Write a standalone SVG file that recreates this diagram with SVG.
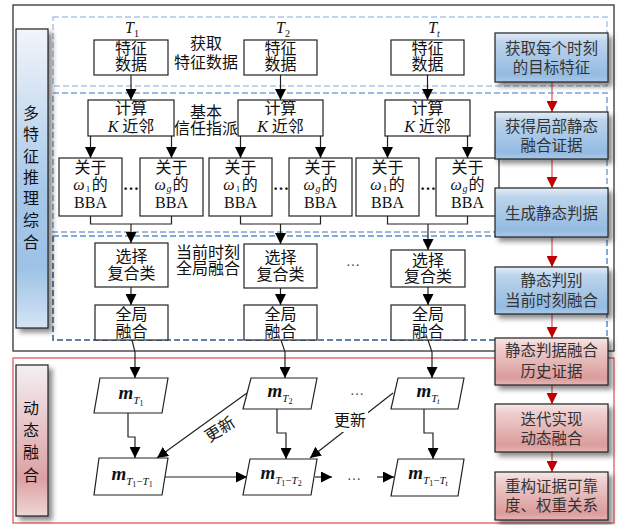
<svg xmlns="http://www.w3.org/2000/svg" width="619" height="525" viewBox="0 0 619 525">
<style>
.box{fill:#fff;stroke:#222;stroke-width:1.2}
.t{font-family:"Liberation Serif","Noto Sans CJK SC",serif;font-size:16px;fill:#111;text-anchor:middle}
.rt{font-size:15.5px;fill:#333}
.it{font-style:italic}
.m{font-size:19px;font-weight:bold;font-style:italic}
.ln{fill:none;stroke:#222;stroke-width:1.2}
.ar{marker-end:url(#ah)}
.rl{fill:none;stroke:#e06c6c;stroke-width:1.4;marker-end:url(#rah)}
.dots{font-family:"Liberation Serif",serif;font-size:14px;fill:#444;text-anchor:middle}
.bshad{filter:url(#sh)}
</style>
<defs>
<marker id="ah" markerUnits="userSpaceOnUse" markerWidth="11" markerHeight="11" refX="11" refY="5.5" orient="auto"><path d="M0,0 L11,5.5 L0,11 z" fill="#000"/></marker>
<marker id="rah" markerUnits="userSpaceOnUse" markerWidth="11" markerHeight="11" refX="11" refY="5.5" orient="auto"><path d="M0,0 L11,5.5 L0,11 z" fill="#c00000"/></marker>
<linearGradient id="gb" x1="0" y1="0" x2="0" y2="1"><stop offset="0" stop-color="#e4eef8"/><stop offset="0.18" stop-color="#bdd4ec"/><stop offset="0.85" stop-color="#94bbe2"/><stop offset="1" stop-color="#a9c8e8"/></linearGradient>
<linearGradient id="gr" x1="0" y1="0" x2="0" y2="1"><stop offset="0" stop-color="#f6e6e6"/><stop offset="0.18" stop-color="#efcfcf"/><stop offset="0.85" stop-color="#db9c9c"/><stop offset="1" stop-color="#e6b4b4"/></linearGradient>
<linearGradient id="glb" x1="0" y1="0" x2="0" y2="1"><stop offset="0" stop-color="#f2f5fa"/><stop offset="0.55" stop-color="#a6c7e8"/><stop offset="0.8" stop-color="#9dc2e6"/><stop offset="1" stop-color="#d5e4f4"/></linearGradient>
<linearGradient id="glr" x1="0" y1="0" x2="0" y2="1"><stop offset="0" stop-color="#f4eff3"/><stop offset="0.75" stop-color="#dda0a3"/><stop offset="1" stop-color="#f0d6d6"/></linearGradient>
<filter id="sh" x="-20%" y="-20%" width="150%" height="150%"><feDropShadow dx="4" dy="4" stdDeviation="2.5" flood-color="#000" flood-opacity="0.45"/></filter>
</defs>

<g id="frames">
<rect x="13" y="5" width="601" height="346" fill="#fff" stroke="#333" stroke-width="1.3"/>
<rect x="13" y="358" width="601" height="165" fill="#fff" stroke="#e05a5a" stroke-width="1.3"/>
<rect x="53" y="17" width="554" height="69" fill="none" stroke="#a9c8e6" stroke-width="1.5" stroke-dasharray="6 3"/>
<rect x="53" y="93" width="554" height="139" fill="none" stroke="#7ca5d0" stroke-width="1.5" stroke-dasharray="6 3"/>
<path d="M53,236 H607 V340" fill="none" stroke="#5b8fc7" stroke-width="1.5" stroke-dasharray="6 3"/>
<path d="M53,236 V340 H607" fill="none" stroke="#2f5b8a" stroke-width="1.5" stroke-dasharray="6 3"/>
</g>

<g id="panel-static">
<rect class="bshad" x="16" y="29" width="32" height="299" fill="url(#glb)" stroke="#222" stroke-width="1.2"/>
<text class="t"><tspan x="31" y="119">多</tspan><tspan x="31" y="140">特</tspan><tspan x="31" y="162">征</tspan><tspan x="31" y="183">推</tspan><tspan x="31" y="204">理</tspan><tspan x="31" y="226">综</tspan><tspan x="31" y="248">合</tspan></text>
</g>
<g id="panel-dynamic">
<rect class="bshad" x="16" y="365" width="32" height="151" fill="url(#glr)" stroke="#222" stroke-width="1.2"/>
<text class="t"><tspan x="31" y="414">动</tspan><tspan x="31" y="436">态</tspan><tspan x="31" y="458">融</tspan><tspan x="31" y="481">合</tspan></text>
</g>

<g id="labels">
<text class="t it" x="132" y="33" font-size="17">T<tspan font-size="10" dy="4" font-style="normal">1</tspan></text>
<text class="t it" x="283" y="33" font-size="17">T<tspan font-size="10" dy="4" font-style="normal">2</tspan></text>
<text class="t it" x="434" y="33" font-size="17">T<tspan font-size="10" dy="4">t</tspan></text>
<text class="t" x="206" y="49" font-size="15">获取</text>
<text class="t" x="206" y="68" font-size="15">特征数据</text>
<text class="t" x="206" y="118" font-size="15">基本</text>
<text class="t" x="206" y="134" font-size="15">信任指派</text>
<text class="t" x="208" y="258" font-size="15">当前时刻</text>
<text class="t" x="208" y="274" font-size="15">全局融合</text>
</g>

<g id="connectors">
<path class="ln ar" d="M131,75 V100"/>
<path class="ln ar" d="M280.5,75 V100"/>
<path class="ln ar" d="M427.5,75 V100"/>
<path class="ln ar" d="M90.5,136 V158"/>
<path class="ln ar" d="M171.5,136 V158"/>
<path class="ln ar" d="M240.5,136 V158"/>
<path class="ln ar" d="M320.5,136 V158"/>
<path class="ln ar" d="M387.5,136 V158"/>
<path class="ln ar" d="M467.5,136 V158"/>
<path class="ln" d="M90.5,216 V224 H171.5 V216"/>
<path class="ln" d="M240.5,216 V224 H320.5 V216"/>
<path class="ln" d="M387.5,216 V224 H467.5 V216"/>
<path class="ln ar" d="M131,224 V243"/>
<path class="ln ar" d="M280.5,224 V244"/>
<path class="ln ar" d="M428,224 V250"/>
<path class="ln ar" d="M131,287 V305"/>
<path class="ln ar" d="M280.5,288 V305"/>
<path class="ln ar" d="M428,287 V305"/>
<path class="ln ar" d="M132,340 L135,352 V378"/>
<path class="ln ar" d="M281,340 L285,352 V378"/>
<path class="ln ar" d="M428,340 L432,352 V378"/>
<path class="ln ar" d="M128,413 V437 H135 V458"/>
<path class="ln ar" d="M277,409 V433 H286 V459"/>
<path class="ln ar" d="M424,409 V433 H433 V459"/>
<path class="ln ar" d="M165,477 H247"/>
<path class="ln ar" d="M315,477 H332"/>
<path class="ln ar" d="M377,477 H394"/>
<path class="ln ar" d="M247,393 L157,458"/>
<path class="ln ar" d="M393,393 L310,458"/>
<rect x="334" y="409" width="34" height="23" fill="#fff"/>
<text class="t" x="350" y="426" font-size="15.5" fill="#333">更新</text>
<text class="t" x="0" y="0" font-size="15.5" fill="#333" transform="translate(223,434) rotate(-33)">更新</text>
<path class="rl" d="M552,82 V112"/>
<path class="rl" d="M552,159 V188"/>
<path class="rl" d="M552,237 V267"/>
<path class="rl" d="M552,314 V338"/>
<path class="rl" d="M552,385 V404"/>
<path class="rl" d="M552,452 V472"/>
</g>

<g id="feat1"><rect class="box" x="94" y="40" width="74" height="35"/><text class="t" x="131" y="54">特征</text><text class="t" x="131" y="70">数据</text></g>
<g id="feat2"><rect class="box" x="244" y="40" width="73" height="35"/><text class="t" x="280.5" y="54">特征</text><text class="t" x="280.5" y="70">数据</text></g>
<g id="feat3"><rect class="box" x="391" y="40" width="73" height="35"/><text class="t" x="427.5" y="54">特征</text><text class="t" x="427.5" y="70">数据</text></g>

<g id="knn1"><rect class="box" x="88" y="100" width="86" height="36"/><text class="t" x="131" y="114">计算</text><text class="t" x="131" y="132"><tspan class="it">K</tspan> 近邻</text></g>
<g id="knn2"><rect class="box" x="238" y="100" width="85" height="36"/><text class="t" x="280.5" y="114">计算</text><text class="t" x="280.5" y="132"><tspan class="it">K</tspan> 近邻</text></g>
<g id="knn3"><rect class="box" x="385" y="100" width="85" height="36"/><text class="t" x="427.5" y="114">计算</text><text class="t" x="427.5" y="132"><tspan class="it">K</tspan> 近邻</text></g>

<g id="bba1"><rect class="box" x="59" y="158" width="63" height="58"/><text class="t" x="90.5" y="173">关于</text><text class="t" x="90.5" y="190"><tspan class="it">ω</tspan><tspan font-size="9" dx="1" dy="2">1</tspan><tspan dx="1.5" dy="-2">的</tspan></text><text class="t" x="90.5" y="208">BBA</text></g>
<g id="bba2"><rect class="box" x="140" y="158" width="63" height="58"/><text class="t" x="171.5" y="190"><tspan class="it">ω</tspan><tspan class="it" font-size="10" dx="0.5" dy="2">g</tspan><tspan dx="1" dy="-2">的</tspan></text><text class="t" x="171.5" y="173">关于</text><text class="t" x="171.5" y="208">BBA</text></g>
<g id="bba3"><rect class="box" x="209" y="158" width="63" height="58"/><text class="t" x="240.5" y="173">关于</text><text class="t" x="240.5" y="190"><tspan class="it">ω</tspan><tspan font-size="9" dx="1" dy="2">1</tspan><tspan dx="1.5" dy="-2">的</tspan></text><text class="t" x="240.5" y="208">BBA</text></g>
<g id="bba4"><rect class="box" x="289" y="158" width="63" height="58"/><text class="t" x="320.5" y="173">关于</text><text class="t" x="320.5" y="190"><tspan class="it">ω</tspan><tspan class="it" font-size="10" dx="0.5" dy="2">g</tspan><tspan dx="1" dy="-2">的</tspan></text><text class="t" x="320.5" y="208">BBA</text></g>
<g id="bba5"><rect class="box" x="356" y="158" width="63" height="58"/><text class="t" x="387.5" y="173">关于</text><text class="t" x="387.5" y="190"><tspan class="it">ω</tspan><tspan font-size="9" dx="1" dy="2">1</tspan><tspan dx="1.5" dy="-2">的</tspan></text><text class="t" x="387.5" y="208">BBA</text></g>
<g id="bba6"><rect class="box" x="436" y="158" width="63" height="58"/><text class="t" x="467.5" y="173">关于</text><text class="t" x="467.5" y="190"><tspan class="it">ω</tspan><tspan class="it" font-size="10" dx="0.5" dy="2">g</tspan><tspan dx="1" dy="-2">的</tspan></text><text class="t" x="467.5" y="208">BBA</text></g>
<g id="dots-bba">
<text class="t" x="131" y="190" font-weight="bold">…</text>
<text class="t" x="281" y="190" font-weight="bold">…</text>
<text class="t" x="428" y="190" font-weight="bold">…</text>
</g>

<g id="sel1"><rect class="box" x="95" y="243" width="73" height="44"/><text class="t" x="131.5" y="262">选择</text><text class="t" x="131.5" y="279">复合类</text></g>
<g id="sel2"><rect class="box" x="244" y="244" width="73" height="44"/><text class="t" x="280.5" y="263">选择</text><text class="t" x="280.5" y="280">复合类</text></g>
<g id="sel3"><rect class="box" x="391" y="250" width="74" height="37"/><text class="t" x="428" y="266">选择</text><text class="t" x="428" y="282">复合类</text></g>
<text class="dots" x="353" y="266">…</text>

<g id="glob1"><rect class="box" x="95" y="305" width="73" height="35"/><text class="t" x="131.5" y="320">全局</text><text class="t" x="131.5" y="337">融合</text></g>
<g id="glob2"><rect class="box" x="244" y="305" width="73" height="35"/><text class="t" x="280.5" y="320">全局</text><text class="t" x="280.5" y="337">融合</text></g>
<g id="glob3"><rect class="box" x="391" y="305" width="74" height="35"/><text class="t" x="428" y="320">全局</text><text class="t" x="428" y="337">融合</text></g>

<g id="mT1"><polygon class="box" points="100,378 168,378 162,413 94,413"/><text class="t m" x="131" y="399">m<tspan font-size="11" font-weight="normal" dy="5">T</tspan><tspan font-size="8" font-weight="normal" dy="2" font-style="normal">1</tspan></text></g>
<g id="mT2"><polygon class="box" points="251,378 317,378 311,409 243,409"/><text class="t m" x="280" y="397">m<tspan font-size="11" font-weight="normal" dy="5">T</tspan><tspan font-size="8" font-weight="normal" dy="2" font-style="normal">2</tspan></text></g>
<g id="mTt"><polygon class="box" points="398,378 464,378 458,409 391,409"/><text class="t m" x="428" y="397">m<tspan font-size="11" font-weight="normal" dy="5">T</tspan><tspan font-size="8" font-weight="normal" dy="2">t</tspan></text></g>
<text class="dots" x="357" y="395">…</text>

<g id="m11"><polygon class="box" points="99,458 168,458 162,495 94,495"/><text class="t m" x="132" y="480">m<tspan font-size="11" font-weight="normal" dy="5">T</tspan><tspan font-size="8" font-weight="normal" dy="2" font-style="normal">1</tspan><tspan font-size="11" font-weight="normal" dy="-2" font-style="normal">−</tspan><tspan font-size="11" font-weight="normal">T</tspan><tspan font-size="8" font-weight="normal" dy="2" font-style="normal">1</tspan></text></g>
<g id="m12"><polygon class="box" points="250,459 317,459 311,495 243,495"/><text class="t m" x="281" y="479">m<tspan font-size="11" font-weight="normal" dy="5">T</tspan><tspan font-size="8" font-weight="normal" dy="2" font-style="normal">1</tspan><tspan font-size="11" font-weight="normal" dy="-2" font-style="normal">−</tspan><tspan font-size="11" font-weight="normal">T</tspan><tspan font-size="8" font-weight="normal" dy="2" font-style="normal">2</tspan></text></g>
<g id="m1t"><polygon class="box" points="398,459 464,459 458,496 391,496"/><text class="t m" x="428" y="479">m<tspan font-size="11" font-weight="normal" dy="5">T</tspan><tspan font-size="8" font-weight="normal" dy="2" font-style="normal">1</tspan><tspan font-size="11" font-weight="normal" dy="-2" font-style="normal">−</tspan><tspan font-size="11" font-weight="normal">T</tspan><tspan font-size="8" font-weight="normal" dy="2">t</tspan></text></g>
<text class="dots" x="354" y="480">…</text>

<g id="s1"><rect class="bshad" x="495" y="33" width="113" height="49" fill="url(#gb)" stroke="#222" stroke-width="1.2"/><text class="t rt" x="551.5" y="54">获取每个时刻</text><text class="t rt" x="551.5" y="73">的目标特征</text></g>
<g id="s2"><rect class="bshad" x="495" y="112" width="113" height="47" fill="url(#gb)" stroke="#222" stroke-width="1.2"/><text class="t rt" x="551.5" y="132">获得局部静态</text><text class="t rt" x="551.5" y="151">融合证据</text></g>
<g id="s3"><rect class="bshad" x="495" y="188" width="113" height="49" fill="url(#gb)" stroke="#222" stroke-width="1.2"/><text class="t rt" x="551.5" y="219">生成静态判据</text></g>
<g id="s4"><rect class="bshad" x="495" y="267" width="113" height="47" fill="url(#gb)" stroke="#222" stroke-width="1.2"/><text class="t rt" x="551.5" y="286">静态判别</text><text class="t rt" x="551.5" y="306">当前时刻融合</text></g>
<g id="s5"><rect class="bshad" x="495" y="338" width="113" height="47" fill="url(#gr)" stroke="#222" stroke-width="1.2"/><text class="t rt" x="551.5" y="356">静态判据融合</text><text class="t rt" x="551.5" y="377">历史证据</text></g>
<g id="s6"><rect class="bshad" x="495" y="404" width="113" height="48" fill="url(#gr)" stroke="#222" stroke-width="1.2"/><text class="t rt" x="551.5" y="425">迭代实现</text><text class="t rt" x="551.5" y="444">动态融合</text></g>
<g id="s7"><rect class="bshad" x="495" y="472" width="113" height="48" fill="url(#gr)" stroke="#222" stroke-width="1.2"/><text class="t rt" x="551.5" y="492">重构证据可靠</text><text class="t rt" x="551.5" y="511">度、权重关系</text></g>
</svg>
